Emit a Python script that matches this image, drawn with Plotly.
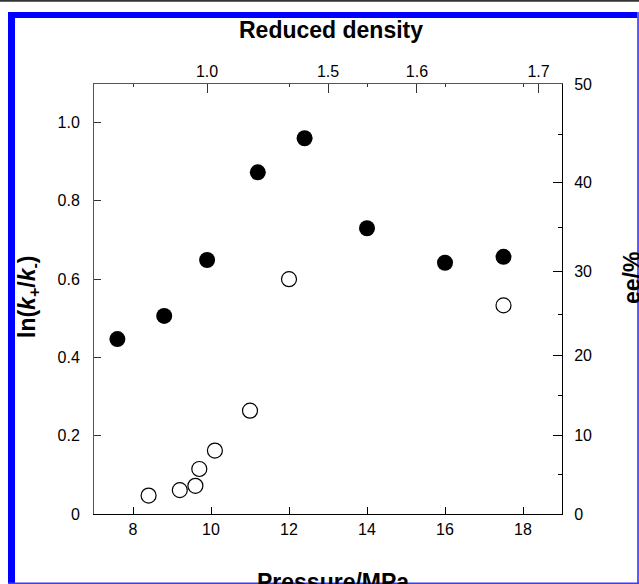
import numpy as np
import plotly.graph_objects as go

# ---- data ----
filled_pressure = [7.6, 8.8, 9.9, 11.2, 12.4, 14.0, 16.0, 17.5]
filled_lnk = [0.447, 0.506, 0.649, 0.873, 0.960, 0.730, 0.642, 0.657]

open_pressure = [8.4, 9.2, 9.6, 9.7, 10.1, 11.0, 12.0, 17.5]
open_lnk = [0.047, 0.061, 0.072, 0.115, 0.162, 0.264, 0.600, 0.533]

pressure_ticks = [8, 10, 12, 14, 16, 18]
lnk_ticks = [0, 0.2, 0.4, 0.6, 0.8, 1.0]
lnk_ticktext = ["0", "0.2", "0.4", "0.6", "0.8", "1.0"]

density_tick_pressure = [9.9, 13.0, 15.28, 18.4]
density_ticktext = ["1.0", "1.5", "1.6", "1.7"]
density_minor_pressure = [8, 12, 14, 16, 18]

ee_ticks = [0, 10, 20, 30, 40, 50]
ee_minor = [5, 15, 25, 35, 45]

# ee (%) relates to ln(k+/k-) via ln = 2*artanh(ee/100)
def ee_to_ln(v):
    return [float(2 * np.arctanh(x / 100.0)) for x in v]

y_top = ee_to_ln([50])[0]  # ln 3
x_range = [7, 19]

FONT = "Liberation Sans, Arial, Helvetica, sans-serif"

fig = go.Figure()
fig.add_trace(go.Scatter(
    x=filled_pressure, y=filled_lnk, mode="markers",
    marker=dict(symbol="circle", size=16, color="black", line=dict(width=0)),
    showlegend=False, hoverinfo="x+y"))
fig.add_trace(go.Scatter(
    x=open_pressure, y=open_lnk, mode="markers", xaxis="x2", yaxis="y2",
    marker=dict(symbol="circle-open", size=15, color="black", line=dict(width=1.2)),
    showlegend=False, hoverinfo="x+y"))

W, H = 639, 584
L, R, T, B = 94, 77, 84, 70
pw, ph = W - L - R, H - T - B

def px(x):
    return (x - L) / pw

def py(y):
    return (H - B - y) / ph

tickfont = dict(family=FONT, size=16, color="black")
titlefont = dict(family=FONT, size=23, color="black", weight="bold")

fig.update_layout(
    width=W, height=H,
    margin=dict(l=L, r=R, t=T, b=B, autoexpand=False),
    paper_bgcolor="white", plot_bgcolor="white",
    showlegend=False,
    xaxis=dict(range=x_range, tickmode="array", tickvals=pressure_ticks,
               ticktext=[str(v) for v in pressure_ticks],
               ticks="inside", ticklen=7, tickcolor="black", tickwidth=1,
               showline=True, linecolor="black", linewidth=1,
               showgrid=False, zeroline=False, tickfont=tickfont,
               ticklabelstandoff=1),
    xaxis2=dict(range=x_range, overlaying="x", side="top", anchor="y",
                tickmode="array", tickvals=density_tick_pressure,
                ticktext=density_ticktext,
                ticks="inside", ticklen=9, tickcolor="#333", tickwidth=1,
                minor=dict(tickmode="array", tickvals=density_minor_pressure,
                           ticks="inside", ticklen=3, tickcolor="#333"),
                showline=True, linecolor="#555", linewidth=1,
                showgrid=False, zeroline=False, tickfont=tickfont,
                ticklabelstandoff=0),
    yaxis=dict(range=[0, y_top], tickmode="array", tickvals=lnk_ticks,
               ticktext=lnk_ticktext,
               ticks="inside", ticklen=7, tickcolor="#333", tickwidth=1,
               showline=True, linecolor="#555", linewidth=1,
               showgrid=False, zeroline=False, tickfont=tickfont,
               ticklabelstandoff=10),
    yaxis2=dict(range=[0, y_top], overlaying="y", side="right", anchor="x",
                tickmode="array", tickvals=ee_to_ln(ee_ticks),
                ticktext=[str(v) for v in ee_ticks],
                ticks="inside", ticklen=9, tickcolor="black", tickwidth=1,
                minor=dict(tickmode="array", tickvals=ee_to_ln(ee_minor),
                           ticks="inside", ticklen=4, tickcolor="black"),
                showline=True, linecolor="black", linewidth=1,
                showgrid=False, zeroline=False, tickfont=tickfont,
                ticklabelstandoff=8),
)

# titles as annotations
fig.add_annotation(text="Reduced density", xref="paper", yref="paper",
                   x=px(331), y=py(30), xanchor="center", yanchor="middle",
                   showarrow=False, font=titlefont)
fig.add_annotation(text="Pressure/MPa", xref="paper", yref="paper",
                   x=px(332.5), y=py(582), xanchor="center", yanchor="middle",
                   showarrow=False, font=titlefont)
fig.add_annotation(text="ln(<i>k</i><sub>+</sub>/<i>k</i><sub>-</sub>)",
                   xref="paper", yref="paper",
                   x=px(28), y=py(297), xanchor="center", yanchor="middle",
                   textangle=-90, showarrow=False, font=titlefont)
fig.add_annotation(text="ee/%", xref="paper", yref="paper",
                   x=px(632), y=py(278), xanchor="center", yanchor="middle",
                   textangle=-90, showarrow=False, font=titlefont)

# page decoration: dark top rule and blue frame
def rect(x0, y0, x1, y1, color):
    fig.add_shape(type="rect", xref="paper", yref="paper",
                  x0=px(x0), x1=px(x1), y0=py(y0), y1=py(y1),
                  fillcolor=color, line=dict(width=0), layer="above")

rect(0, 0, 639, 1.7, "#333333")
rect(8, 12, 639, 18, "#0000ff")
rect(8, 12, 15, 584, "#0000ff")
rect(637, 12, 639, 584, "#5a5aff")
rect(8, 582.5, 639, 584, "#3c3cf0")

fig.write_html(
    "out.html",
    config={"displayModeBar": False},
    post_script="document.body.style.margin='0';document.body.style.overflow='hidden';",
)
